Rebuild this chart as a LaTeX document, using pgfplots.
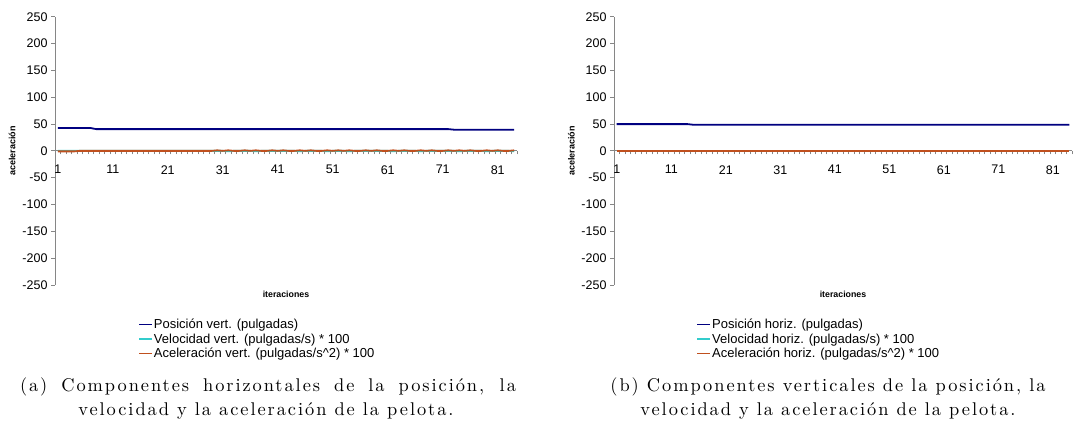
\documentclass[border=0pt]{standalone}
\usepackage{fontspec}
\setmainfont{Liberation Sans}
\newfontfamily\capfont{lmroman10-regular}[Extension=.otf, LetterSpace=10.5]
\usepackage{pgfplots}
\pgfplotsset{compat=1.18}
\usepackage{pgfplotstable}

\definecolor{navyl}{HTML}{000080}
\definecolor{turq}{HTML}{33CCCC}
\definecolor{rust}{HTML}{C0501E}
\definecolor{axgray}{HTML}{868686}

\pgfplotstableread{
x p v a
1 42.5 0 -1
2 42.5 0 -1
3 42.5 0 -1
4 42.5 0 -1
5 42.5 0 0
6 42.5 0 0
7 42.5 0 0
8 40.5 0 0
9 40.5 0 0
10 40.5 0 0
11 40.5 0 0
12 40.5 0 0
13 40.5 0 0
14 40.5 0 0
15 40.5 0 0
16 40.5 0 0
17 40.5 0 0
18 40.5 0 0
19 40.5 0 0
20 40.5 0 0
21 40.5 0 0
22 40.5 0 0
23 40.5 0 0
24 40.5 0 0
25 40.5 0 0
26 40.5 0 0
27 40.5 0 0
28 40.5 0 0
29 40.5 0 0
30 40.5 0 1
31 40.5 0 0
32 40.5 -0.8 1
33 40.5 0 0
34 40.5 0 0
35 40.5 0 1
36 40.5 0 0
37 40.5 -0.8 1
38 40.5 0 0
39 40.5 0 0
40 40.5 0 1
41 40.5 0 0
42 40.5 0 1
43 40.5 0 0
44 40.5 0 0
45 40.5 -0.8 1
46 40.5 0 0
47 40.5 0 1
48 40.5 0 0
49 40.5 0 0
50 40.5 -0.8 1
51 40.5 0 0
52 40.5 0 1
53 40.5 0 0
54 40.5 -0.8 1
55 40.5 0 0
56 40.5 0 0
57 40.5 0 1
58 40.5 0 0
59 40.5 0 1
60 40.5 0 0
61 40.5 0 0
62 40.5 -0.8 1
63 40.5 0 0
64 40.5 0 1
65 40.5 0 0
66 40.5 0 0
67 40.5 -0.8 1
68 40.5 0 0
69 40.5 0 1
70 40.5 0 0
71 40.5 0 0
72 40.5 0 1
73 39.5 0 0
74 39.5 -0.8 1
75 39.5 0 0
76 39.5 0 1
77 39.5 0 0
78 39.5 0 0
79 39.5 -0.8 1
80 39.5 0 0
81 39.5 0 1
82 39.5 0 0
83 39.5 0 0
84 39.5 -0.8 1
}\vertdata

\pgfplotstableread{
x p v a
1 49.8 0 0
2 49.8 0 0
3 49.8 0 0
4 49.8 0 0
5 49.8 0 0
6 49.8 0 0
7 49.8 0 0
8 49.8 0 0
9 49.8 0 0
10 49.8 0 0
11 49.8 0 0
12 49.8 0 0
13 49.8 0 0
14 49.8 0 0
15 48.7 0 0
16 48.7 0 0
17 48.7 0 0
18 48.7 0 0
19 48.7 0 0
20 48.7 0 0
21 48.7 0 0
22 48.7 0 0
23 48.7 0 0
24 48.7 0 0
25 48.7 0 0
26 48.7 0 0
27 48.7 0 0
28 48.7 0 0
29 48.7 0 0
30 48.7 0 0
31 48.7 0 0
32 48.7 0 0
33 48.7 0 0
34 48.7 0 0
35 48.7 0 0
36 48.7 0 0
37 48.7 0 0
38 48.7 0 0
39 48.7 0 0
40 48.7 0 0
41 48.7 0 0
42 48.7 0 0
43 48.7 0 0
44 48.7 0 0
45 48.7 0 0
46 48.7 0 0
47 48.7 0 0
48 48.7 0 0
49 48.7 0 0
50 48.7 0 0
51 48.7 0 0
52 48.7 0 0
53 48.7 0 0
54 48.7 0 0
55 48.7 0 0
56 48.7 0 0
57 48.7 0 0
58 48.7 0 0
59 48.7 0 0
60 48.7 0 0
61 48.7 0 0
62 48.7 0 0
63 48.7 0 0
64 48.7 0 0
65 48.7 0 0
66 48.7 0 0
67 48.7 0 0
68 48.7 0 0
69 48.7 0 0
70 48.7 0 0
71 48.7 0 0
72 48.7 0 0
73 48.7 0 0
74 48.7 0 0
75 48.7 0 0
76 48.7 0 0
77 48.7 0 0
78 48.7 0 0
79 48.7 0 0
80 48.7 0 0
81 48.7 0 0
82 48.7 0 0
83 48.7 0 0
84 48.7 0 0
}\horizdata

\pgfplotsset{
  myax/.style={
    scale only axis, height=268.3pt,
    xmin=0.5, xmax=84.5, ymin=-250, ymax=250,
    axis x line=middle, axis y line=left,
    axis line style={draw=axgray, line width=0.8pt, -},
    ytick={-250,-200,...,250},
    xtick={1,11,...,81},
    minor xtick={0.5,1.5,...,84.5},
    tick align=outside,
    major x tick style={draw=none},
    minor x tick style={draw=axgray, line width=0.8pt},
    major y tick style={draw=axgray, line width=0.8pt},
    major tick length=4pt, minor tick length=3.5pt,
    /pgf/number format/assume math mode=true,
    tick label style={font=\fontsize{12.5}{14}\selectfont},
    x tick label style={yshift=-7pt},
    xlabel={iteraciones}, ylabel={aceleración},
    xlabel style={font=\bfseries\fontsize{8.8}{10}\selectfont, at={(axis description cs:0.5,-0.0335)}, anchor=center},
    ylabel style={font=\bfseries\fontsize{9}{10}\selectfont, at={(axis description cs:-0.093,0.5)}, anchor=center},
    legend style={at={(0.18,-0.1225)}, anchor=north west, draw=none, fill=none,
      font=\fontsize{13}{15}\selectfont, row sep=1.5pt, inner sep=0pt,
      nodes={inner sep=1pt}},
    legend cell align=left,
    legend image code/.code={\draw[#1, line width=1.6pt] (0pt,0pt) -- (13pt,0pt);},
  }
}

\begin{document}
\begin{tikzpicture}
\path[use as bounding box] (0pt,0pt) rectangle (1073pt,437pt);

\begin{axis}[myax, width=462pt, at={(55pt,152pt)}, anchor=south west]
\addplot[navyl, line width=1.8pt] table[x=x, y=p] {\vertdata};
\addlegendentry{Posición vert. (pulgadas)}
\addplot[turq, line width=1.8pt] table[x=x, y=v] {\vertdata};
\addlegendentry{Velocidad vert. (pulgadas/s) * 100}
\addplot[rust, line width=1.8pt] table[x=x, y=a] {\vertdata};
\addlegendentry{Aceleración vert. (pulgadas/s\textasciicircum2) * 100}
\end{axis}

\begin{axis}[myax, width=458pt, at={(614pt,152pt)}, anchor=south west]
\addplot[navyl, line width=1.8pt] table[x=x, y=p] {\horizdata};
\addlegendentry{Posición horiz. (pulgadas)}
\addplot[turq, line width=1.8pt] table[x=x, y=v] {\horizdata};
\addlegendentry{Velocidad horiz. (pulgadas/s) * 100}
\addplot[rust, line width=1.8pt] table[x=x, y=a] {\horizdata};
\addlegendentry{Aceleración horiz. (pulgadas/s\textasciicircum2) * 100}
\end{axis}

\begin{scope}[every node/.style={anchor=base, inner sep=0pt, font=\capfont\fontsize{18.4}{22}\selectfont}]
\node at (268pt,45.3pt) {\hbox to 496pt{(a) Componentes horizontales de la posición, la}};
\node at (266pt,22pt) {velocidad y la aceleración de la pelota.};
\node at (828pt,45.3pt) {(b) Componentes verticales de la posición, la};
\node at (828pt,22pt) {velocidad y la aceleración de la pelota.};
\end{scope}
\end{tikzpicture}
\end{document}
